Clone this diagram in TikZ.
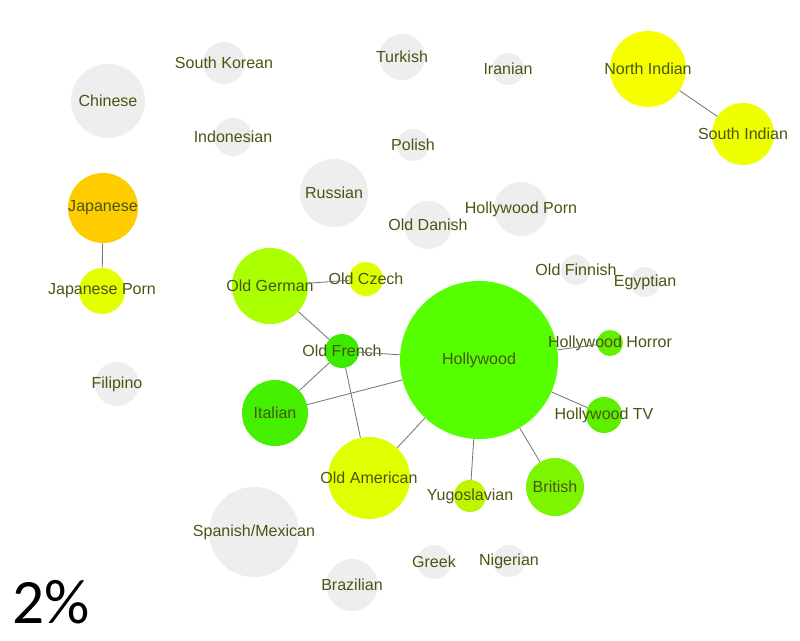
\documentclass[tikz,border=0pt]{standalone}
\usepackage{fontspec}
\setmainfont{Liberation Sans}
\newfontfamily\pctfamily{Carlito}
\usepackage{tikz}
\definecolor{nofill}{HTML}{EEEEEE}
\definecolor{labelolive}{HTML}{4A5514}
\definecolor{linkgray}{HTML}{777777}
\tikzset{
	genre/.style={circle, inner sep=0pt, minimum size=#1*0.05cm, fill=nofill},
	link/.style={draw=linkgray, line width=0.6pt},
	every label/.style={text=labelolive, inner sep=0pt, font=\fontsize{11.4}{13}\selectfont}
}

\begin{document}
\begin{tikzpicture}[x=0.025cm, y=-0.025cm]
			%%%%% START %%%%%
			\useasboundingbox[fill=white] (0, 0) rectangle (800, 640);
			
			% genres nobody links
			\node[genre=37, label=center:Chinese] (chinese) at (108, 101) {};
			\node[genre=21, label=center:South Korean] (skorean) at (224, 63) {};
			\node[genre=19, label=center:Indonesian] (indonesian) at (233, 137) {};
			\node[genre=23, label=center:Turkish] (turkish) at (402, 57) {};
			\node[genre=16, label=center:Polish] (polish) at (413, 145) {};
			\node[genre=16, label=center:Iranian] (iranian) at (508, 69) {};
			\node[genre=34, label=center:Russian] (russian) at (334, 193) {};
			\node[genre=24, label=center:Old Danish] (odanish) at (428, 225) {};
			\node[genre=27, label=center:Hollywood Porn] (hwporn) at (521, 209) {};
			\node[genre=15, label=center:Old Finnish] (ofinnish) at (576, 270) {};
			\node[genre=15, label=center:Egyptian] (egyptian) at (645, 282) {};
			\node[genre=22, label=center:Filipino] (filipino) at (117, 384) {};
			\node[genre=45, label=center:Spanish/Mexican] (spanish) at (254, 532) {};
			\node[genre=26, label=center:Brazilian] (brazilian) at (352, 585) {};
			\node[genre=17, label=center:Greek] (greek) at (434, 562) {};
			\node[genre=16, label=center:Nigerian] (nigerian) at (509, 561) {};
			
			% small clusters
			\node[genre=35, fill={rgb,255:red,255;green,204;blue,0}, label=center:Japanese] (japanese) at (103, 208) {};
			\node[genre=23, fill={rgb,255:red,228;green,255;blue,0}, label=center:Japanese Porn] (japorn) at (102, 291) {};
			\node[genre=38, fill={rgb,255:red,245;green,255;blue,0}, label=center:North Indian] (nindian) at (648, 69) {};
			\node[genre=31, fill={rgb,255:red,238;green,255;blue,0}, label=center:South Indian] (sindian) at (743, 134) {};
			
			% big cluster
			\node[genre=79, fill={rgb,255:red,85;green,255;blue,0}, label=center:Hollywood] (hollywood) at (479, 360) {};
			\node[genre=38, fill={rgb,255:red,170;green,255;blue,0}, label=center:Old German] (ogerman) at (270, 286) {};
			\node[genre=17, fill={rgb,255:red,221;green,255;blue,0}, label=center:Old Czech] (oczech) at (366, 279) {};
			\node[genre=17, fill={rgb,255:red,59;green,235;blue,0}, label=center:Old French] (ofrench) at (342, 351) {};
			\node[genre=33, fill={rgb,255:red,68;green,240;blue,0}, label=center:Italian] (italian) at (275, 413) {};
			\node[genre=41, fill={rgb,255:red,224;green,255;blue,0}, label=center:Old American] (oamerican) at (369, 478) {};
			\node[genre=16, fill={rgb,255:red,192;green,245;blue,0}, label=center:Yugoslavian] (yugoslav) at (470, 496) {};
			\node[genre=29, fill={rgb,255:red,125;green,245;blue,0}, label=center:British] (british) at (555, 487) {};
			\node[genre=18, fill={rgb,255:red,94;green,239;blue,0}, label=center:Hollywood TV] (hwtv) at (604, 415) {};
			\node[genre=13, fill={rgb,255:red,102;green,240;blue,0}, label=center:Hollywood Horror] (hwhorror) at (610, 343) {};
			
			% links
			\draw[link] (japanese) -- (japorn);
			\draw[link] (nindian) -- (sindian);
			\draw[link] (ogerman) -- (oczech);
			\draw[link] (ogerman) -- (ofrench);
			\draw[link] (ofrench) -- (hollywood);
			\draw[link] (ofrench) -- (italian);
			\draw[link] (ofrench) -- (oamerican);
			\draw[link] (italian) -- (hollywood);
			\draw[link] (oamerican) -- (hollywood);
			\draw[link] (hollywood) -- (yugoslav);
			\draw[link] (hollywood) -- (british);
			\draw[link] (hollywood) -- (hwtv);
			\draw[link] (hollywood) -- (hwhorror);
			
			\node[anchor=base west, inner sep=0pt, font=\pctfamily\fontsize{45}{50}\selectfont] (pct) at (12, 623) {2\%};
			%%%%% END %%%%%
\end{tikzpicture}
\end{document}
